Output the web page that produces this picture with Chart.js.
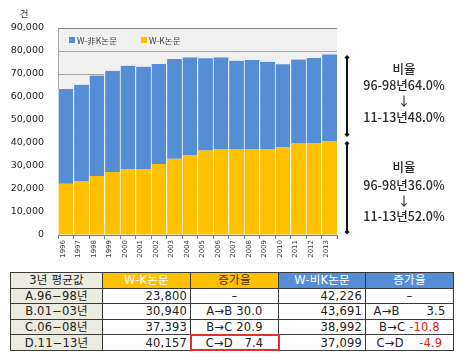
<!DOCTYPE html>
<html>
<head>
<meta charset="utf-8">
<script src="https://cdn.jsdelivr.net/npm/chart.js@4/dist/chart.umd.min.js"></script>
<style>
  html, body { margin: 0; padding: 0; background: #fff; }
  #wrap { position: relative; width: 463px; height: 358px; overflow: hidden; }
  #chart { position: absolute; left: 0; top: 0; }
  #avgTable {
    position: absolute; left: 10px; top: 272px;
    border-collapse: collapse; table-layout: fixed;
    font-family: "DejaVu Sans", "Noto Sans CJK KR", sans-serif;
    font-size: 11.5px; color: #222; letter-spacing: 0.2px;
  }
  #avgTable td { border: 1px solid #3a3a3a; height: 14.6px; padding: 0 3px; line-height: 14px; white-space: pre; overflow: hidden; }
  #avgTable td.label { background: #ecebdf; text-align: center; }
  #avgTable td.num { text-align: right; }
  #avgTable td.rate { text-align: center; }
  #avgTable tr.head td { text-align: center; }
  #avgTable td.hk { background: #ffc000; }
  #avgTable td.hb { background: #558ed5; color: #fff; }
  #avgTable td.boxed { outline: 2px solid #e03030; outline-offset: -1px; }
  .neg { color: #e02020; }
</style>
</head>
<body>
<div id="wrap">
  <canvas id="chart" width="463" height="265"></canvas>
  <table id="avgTable"></table>
</div>
<script>
// chart data
const years = ["1996", "1997", "1998", "1999", "2000", "2001", "2002", "2003", "2004",
  "2005", "2006", "2007", "2008", "2009", "2010", "2011", "2012", "2013"];
const wkPapers = [22300, 23500, 25600, 27400, 28700, 28700, 30900, 33200, 34800,
  36700, 37400, 37400, 37400, 37400, 38300, 39900, 40000, 40600];
const nonKPapers = [41200, 41800, 43700, 44000, 44900, 44500, 43400, 43300, 42400,
  40100, 39800, 38400, 38700, 37900, 35900, 36400, 37000, 37900];
const seriesNames = ["W-K논문", "W-非K논문"];
const seriesColors = ["#ffc000", "#558ed5"];

// right side notes
const nonKNote = ["비율", "96-98년64.0%", "↓", "11-13년48.0%"];
const wkNote = ["비율", "96-98년36.0%", "↓", "11-13년52.0%"];

// table data
const tableHead = ["3년 평균값", "W-K논문", "증가율", "W-비K논문", "증가율"];
const periods = ["A.96−98년", "B.01−03년", "C.06−08년", "D.11−13년"];
const wkAvg = ["23,800", "30,940", "37,393", "40,157"];
const wkRate = [["", "–"], ["A→B", "30.0"], ["B→C", "20.9"], ["C→D", "7.4"]];
const nonKAvg = ["42,226", "43,691", "38,992", "37,099"];
const nonKRate = [["", "–"], ["A→B", "3.5"], ["B→C", "-10.8"], ["C→D", "-4.9"]];

const plotBg = {
  id: "plotBg",
  beforeDraw: function(chart) {
    let a = chart.chartArea, ctx = chart.ctx;
    ctx.save();
    ctx.fillStyle = "#f0f0f0";
    ctx.fillRect(a.left, a.top, a.right - a.left, a.bottom - a.top);
    ctx.restore();
  }
};

const extras = {
  id: "extras",
  afterDraw: function(chart) {
    let ctx = chart.ctx, a = chart.chartArea, y = chart.scales.y;
    ctx.save();

    // unit label
    ctx.fillStyle = "#333";
    ctx.font = "9.5px 'Noto Sans CJK KR'";
    ctx.textAlign = "center";
    ctx.textBaseline = "middle";
    ctx.fillText("건", 24, 13);

    // top border of plot area
    ctx.strokeStyle = "#8c8c8c";
    ctx.lineWidth = 1;
    ctx.beginPath();
    ctx.moveTo(a.left, a.top + 0.5);
    ctx.lineTo(a.right, a.top + 0.5);
    ctx.stroke();

    // legend inside plot
    ctx.font = "8.5px 'Noto Sans CJK KR'";
    ctx.textAlign = "left";
    let lx = a.left + 11;
    for (let i = chart.data.datasets.length - 1; i >= 0; i--) {
      let ds = chart.data.datasets[i];
      ctx.fillStyle = ds.backgroundColor;
      ctx.fillRect(lx, 37, 6, 6);
      ctx.fillStyle = "#404040";
      ctx.fillText(ds.label, lx + 8, 40.5);
      lx += 72;
    }

    // arrows on the right
    let last = years.length - 1;
    let topY = y.getPixelForValue(wkPapers[last] + nonKPapers[last]) + 3;
    let midY = y.getPixelForValue(wkPapers[last]);
    let botY = y.getPixelForValue(0) - 3;
    let ax = a.right + 10;
    let spans = [[topY, midY - 7], [midY + 2, botY]];
    ctx.strokeStyle = "#111";
    ctx.fillStyle = "#111";
    ctx.lineWidth = 2;
    spans.forEach(function(s) {
      ctx.beginPath();
      ctx.moveTo(ax, s[0]);
      ctx.lineTo(ax, s[1]);
      ctx.stroke();
      [s[0], s[1]].forEach(function(py) {
        ctx.beginPath();
        ctx.moveTo(ax, py - 2.5);
        ctx.lineTo(ax + 2.5, py);
        ctx.lineTo(ax, py + 2.5);
        ctx.lineTo(ax - 2.5, py);
        ctx.closePath();
        ctx.fill();
      });
    });

    // ratio notes
    ctx.fillStyle = "#2a2a2a";
    ctx.font = "500 12.5px 'Noto Sans CJK KR'";
    ctx.textAlign = "center";
    let tx = 404;
    let noteYs = [69, 85, 101.5, 117];
    nonKNote.forEach(function(t, i) { ctx.fillText(t, tx, noteYs[i]); });
    noteYs = [167, 185, 201.5, 216];
    wkNote.forEach(function(t, i) { ctx.fillText(t, tx, noteYs[i]); });

    ctx.restore();
  }
};

new Chart(document.getElementById("chart"), {
  type: "bar",
  data: {
    labels: years,
    datasets: [{
      label: seriesNames[0],
      data: wkPapers,
      backgroundColor: seriesColors[0],
      borderColor: "#ffffff",
      borderWidth: { left: 1, right: 0, top: 0, bottom: 0 },
      borderSkipped: false,
      barPercentage: 1,
      categoryPercentage: 1
    }, {
      label: seriesNames[1],
      data: nonKPapers,
      backgroundColor: seriesColors[1],
      borderColor: "#ffffff",
      borderWidth: { left: 1, right: 0, top: 0, bottom: 0 },
      borderSkipped: false,
      barPercentage: 1,
      categoryPercentage: 1
    }]
  },
  options: {
    responsive: false,
    animation: false,
    layout: { padding: { left: 0, right: 126, top: 28, bottom: 0 } },
    plugins: { legend: { display: false }, tooltip: { enabled: false } },
    scales: {
      x: {
        stacked: true,
        afterFit: function(scale) { scale.height = 30; },
        grid: { drawOnChartArea: false, color: "#808080", tickLength: 4 },
        border: { color: "#808080" },
        ticks: {
          minRotation: 90, maxRotation: 90, autoSkip: false,
          labelOffset: -3, padding: 1,
          color: "#404040",
          font: { family: "DejaVu Sans", size: 7 }
        }
      },
      y: {
        stacked: true,
        min: 0, max: 90000,
        afterFit: function(scale) { scale.width = 58; },
        grid: { color: "#a6a6a6", drawTicks: false },
        border: { color: "#a6a6a6" },
        ticks: {
          stepSize: 10000, padding: 14,
          color: "#222",
          font: { family: "DejaVu Sans", size: 9.5 },
          callback: function(v) { return v.toLocaleString("en-US"); }
        }
      }
    }
  },
  plugins: [plotBg, extras]
});

// average table
function buildTable() {
  let table = document.getElementById("avgTable");
  let widths = [92, 88, 88, 87, 88];
  let html = "<colgroup>" + widths.map(w => "<col style='width:" + w + "px'>").join("") + "</colgroup>";
  html += "<tr class='head'>" +
    "<td class='label'>" + tableHead[0] + "</td>" +
    "<td class='hk' style='color:#fff'>" + tableHead[1] + "</td>" +
    "<td class='hk' style='color:#4a3300'>" + tableHead[2] + "</td>" +
    "<td class='hb'>" + tableHead[3] + "</td>" +
    "<td class='hb'>" + tableHead[4] + "</td></tr>";
  for (let i = 0; i < periods.length; i++) {
    let kr = wkRate[i], nr = nonKRate[i];
    let kCell = kr[0] ? kr[0] + (i === 3 ? "   " : " ") + kr[1] : kr[1];
    let nCell;
    if (!nr[0]) {
      nCell = "<td class='rate'>" + nr[1] + "</td>";
    } else {
      let cls = nr[1].charAt(0) === "-" ? "neg" : "";
      let gap = i === 1 ? "       " : (i === 2 ? " " : "    ");
      nCell = "<td class='rate'>" + nr[0] + gap + "<span class='" + cls + "'>" + nr[1] + "</span></td>";
    }
    html += "<tr>" +
      "<td class='label'>" + periods[i] + "</td>" +
      "<td class='num'>" + wkAvg[i] + "</td>" +
      "<td class='rate" + (i === 3 ? " boxed" : "") + "'>" + kCell + "</td>" +
      "<td class='num'>" + nonKAvg[i] + "</td>" +
      nCell + "</tr>";
  }
  table.innerHTML = html;
}
buildTable();
</script>
</body>
</html>
